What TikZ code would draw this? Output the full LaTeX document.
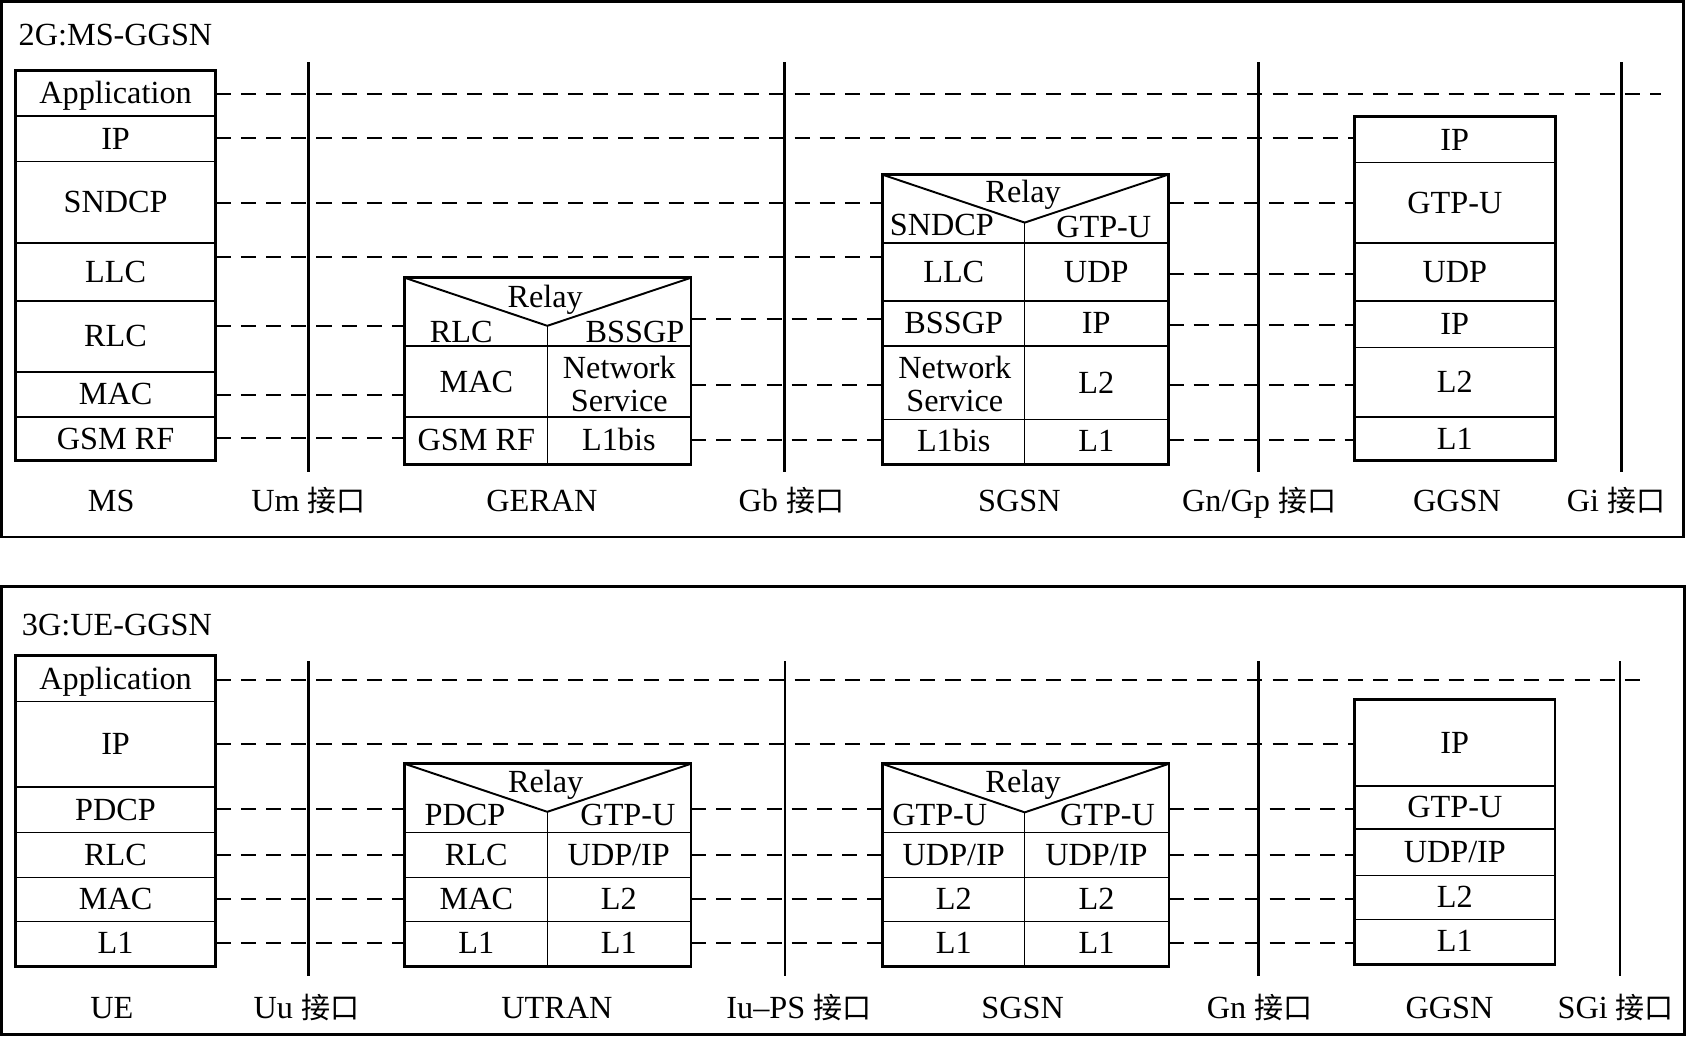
\documentclass[tikz,border=0pt]{standalone}
\usepackage{fontspec}
\setmainfont{Liberation Serif}
\newfontfamily\cjkfont[Scale=0.9]{Noto Sans CJK SC}
\usepackage{tikz}
\usetikzlibrary{fit}

\tikzset{
	proto/.style={inner sep=0pt, text height=0.66em, text depth=0pt, yshift=-1.5pt},
	layer/.style={draw, line width=0.7pt, inner sep=0pt, label={[proto]center:#1}},
	layer/.default={},
	divider/.style={line width=0.7pt},
	stackbox/.style={line width=1.3pt},
	relayline/.style={line width=0.9pt},
	twoline/.style={inner sep=0pt, align=center},
	dashlink/.style={line width=0.9pt, dash pattern=on 7pt off 4.7pt},
	iface/.style={line width=1.1pt},
	panelbox/.style={line width=1.3pt}
}

\begin{document}
\begin{tikzpicture}[x=0.5pt, y=-0.5pt, font=\fontsize{15pt}{15.5pt}\selectfont]
				\useasboundingbox (0,0) rectangle (1568,963.5);

				\node[inner sep=0pt, anchor=base west] (title2g) at (17,42.5) {2G:MS-GGSN};

				\node[layer=Application, fit={(15,66) (200,108)}] (ms-app) {};
				\node[layer=IP, fit={(15,108) (200,150)}] (ms-ip) {};
				\node[layer=SNDCP, fit={(15,150) (200,226)}] (ms-sndcp) {};
				\node[layer=LLC, fit={(15,226) (200,280)}] (ms-llc) {};
				\node[layer=RLC, fit={(15,280) (200,346)}] (ms-rlc) {};
				\node[layer=MAC, fit={(15,346) (200,388)}] (ms-mac) {};
				\node[layer=GSM RF, fit={(15,388) (200,428)}] (ms-rf) {};
				\draw[stackbox] (ms-app.north west) rectangle (ms-rf.south east);

				\node[layer, fit={(377,259) (642,322)}] (geran-relay) {};
				\node[layer=MAC, fit={(377,322) (509,388)}] (geran-mac) {};
				\node[layer, fit={(509,322) (642,388)}] (geran-ns) {};
				\node[layer=GSM RF, fit={(377,388) (509,431)}] (geran-rf) {};
				\node[layer=L1bis, fit={(509,388) (642,431)}] (geran-l1bis) {};
				\coordinate (geran-apex) at (509,303);
				\draw[relayline] (geran-relay.north west) -- (geran-apex) -- (geran-relay.north east);
				\draw[divider] (geran-apex) -- (geran-apex |- geran-relay.south);
				\draw[stackbox] (geran-relay.north west) rectangle (geran-l1bis.south east);
				\node[proto] (geran-relay-txt) at (507,276) {Relay};
				\node[proto] (geran-rlc-txt) at (429,308.5) {RLC};
				\node[proto] (geran-bssgp-txt) at (590.5,308.5) {BSSGP};
				\node[twoline] (geran-ns-txt) at (576,357) {Network\\Service};

				\node[layer, fit={(821,163) (1086,226)}] (sgsn-relay) {};
				\node[layer=LLC, fit={(821,226) (953,280)}] (sgsn-llc) {};
				\node[layer=UDP, fit={(953,226) (1086,280)}] (sgsn-udp) {};
				\node[layer=BSSGP, fit={(821,280) (953,322)}] (sgsn-bssgp) {};
				\node[layer=IP, fit={(953,280) (1086,322)}] (sgsn-ip) {};
				\node[layer, fit={(821,322) (953,390)}] (sgsn-ns) {};
				\node[layer=L2, fit={(953,322) (1086,390)}] (sgsn-l2) {};
				\node[layer=L1bis, fit={(821,390) (953,431)}] (sgsn-l1bis) {};
				\node[layer=L1, fit={(953,390) (1086,431)}] (sgsn-l1) {};
				\coordinate (sgsn-apex) at (953,207);
				\draw[relayline] (sgsn-relay.north west) -- (sgsn-apex) -- (sgsn-relay.north east);
				\draw[divider] (sgsn-apex) -- (sgsn-apex |- sgsn-relay.south);
				\draw[stackbox] (sgsn-relay.north west) rectangle (sgsn-l1.south east);
				\node[proto] (sgsn-relay-txt) at (951.5,179) {Relay};
				\node[proto] (sgsn-sndcp-txt) at (876,209) {SNDCP};
				\node[proto] (sgsn-gtpu-txt) at (1026.5,211.5) {GTP-U};
				\node[twoline] (sgsn-ns-txt) at (888,357) {Network\\Service};

				\node[layer=IP, fit={(1260,109) (1446,151)}] (ggsn-ip) {};
				\node[layer=GTP-U, fit={(1260,151) (1446,226)}] (ggsn-gtpu) {};
				\node[layer=UDP, fit={(1260,226) (1446,280)}] (ggsn-udp) {};
				\node[layer=IP, fit={(1260,280) (1446,323)}] (ggsn-ipb) {};
				\node[layer=L2, fit={(1260,323) (1446,388)}] (ggsn-l2) {};
				\node[layer=L1, fit={(1260,388) (1446,428)}] (ggsn-l1) {};
				\draw[stackbox] (ggsn-ip.north west) rectangle (ggsn-l1.south east);

				\coordinate (app2-end) at (1545,87);
				\draw[dashlink] (ms-app.east |- 0,87) -- (app2-end);
				\draw[dashlink] (ms-ip.east |- 0,128) -- (ggsn-ip.west |- 0,128);
				\draw[dashlink] (ms-sndcp.east |- 0,189) -- (sgsn-relay.west |- 0,189);
				\draw[dashlink] (sgsn-relay.east |- 0,189) -- (ggsn-gtpu.west |- 0,189);
				\draw[dashlink] (ms-llc.east |- 0,238.6) -- (sgsn-llc.west |- 0,238.6);
				\draw[dashlink] (sgsn-udp.east |- 0,254.6) -- (ggsn-udp.west |- 0,254.6);
				\draw[dashlink] (ms-rlc.east |- 0,303) -- (geran-relay.west |- 0,303);
				\draw[dashlink] (geran-relay.east |- 0,297) -- (sgsn-bssgp.west |- 0,297);
				\draw[dashlink] (sgsn-ip.east |- 0,302) -- (ggsn-ipb.west |- 0,302);
				\draw[dashlink] (ms-mac.east |- 0,367.5) -- (geran-mac.west |- 0,367.5);
				\draw[dashlink] (geran-ns.east |- 0,358) -- (sgsn-ns.west |- 0,358);
				\draw[dashlink] (sgsn-l2.east |- 0,358) -- (ggsn-l2.west |- 0,358);
				\draw[dashlink] (ms-rf.east |- 0,407.5) -- (geran-rf.west |- 0,407.5);
				\draw[dashlink] (geran-l1bis.east |- 0,409) -- (sgsn-l1bis.west |- 0,409);
				\draw[dashlink] (sgsn-l1.east |- 0,409) -- (ggsn-l1.west |- 0,409);

				\draw[iface] (287,58) -- (287,439);
				\draw[iface] (729.5,58) -- (729.5,439);
				\draw[iface] (1170.5,58) -- (1170.5,439);
				\draw[iface] (1508,58) -- (1508,439);

				\node[proto] (lbl-ms) at (103.5,466) {MS};
				\node[proto] (lbl-um) at (287,466) {Um {\cjkfont 接口}};
				\node[proto] (lbl-geran) at (504,466) {GERAN};
				\node[proto] (lbl-gb) at (736,466) {Gb {\cjkfont 接口}};
				\node[proto] (lbl-sgsn) at (948,466) {SGSN};
				\node[proto] (lbl-gngp) at (1171,466) {Gn/Gp {\cjkfont 接口}};
				\node[proto] (lbl-ggsn) at (1355,466) {GGSN};
				\node[proto] (lbl-gi) at (1503,466) {Gi {\cjkfont 接口}};

				\draw[panelbox] (1.5,1.5) rectangle (1566,499.5);

				\node[inner sep=0pt, anchor=base west] (title3g) at (20,590.6) {3G:UE-GGSN};

				\node[layer=Application, fit={(15,610) (200,652.5)}] (ue-app) {};
				\node[layer=IP, fit={(15,652.5) (200,732)}] (ue-ip) {};
				\node[layer=PDCP, fit={(15,732) (200,774)}] (ue-pdcp) {};
				\node[layer=RLC, fit={(15,774) (200,816)}] (ue-rlc) {};
				\node[layer=MAC, fit={(15,816) (200,857)}] (ue-mac) {};
				\node[layer=L1, fit={(15,857) (200,898)}] (ue-l1) {};
				\draw[stackbox] (ue-app.north west) rectangle (ue-l1.south east);

				\node[layer, fit={(377,711) (642,774)}] (utran-relay) {};
				\node[layer=RLC, fit={(377,774) (509,816)}] (utran-rlc) {};
				\node[layer=UDP/IP, fit={(509,774) (642,816)}] (utran-udpip) {};
				\node[layer=MAC, fit={(377,816) (509,857)}] (utran-mac) {};
				\node[layer=L2, fit={(509,816) (642,857)}] (utran-l2) {};
				\node[layer=L1, fit={(377,857) (509,898)}] (utran-l1a) {};
				\node[layer=L1, fit={(509,857) (642,898)}] (utran-l1b) {};
				\coordinate (utran-apex) at (509,755);
				\draw[relayline] (utran-relay.north west) -- (utran-apex) -- (utran-relay.north east);
				\draw[divider] (utran-apex) -- (utran-apex |- utran-relay.south);
				\draw[stackbox] (utran-relay.north west) rectangle (utran-l1b.south east);
				\node[proto] (utran-relay-txt) at (507.5,727.5) {Relay};
				\node[proto] (utran-pdcp-txt) at (432.5,758.5) {PDCP};
				\node[proto] (utran-gtpu-txt) at (584,758.5) {GTP-U};

				\node[layer, fit={(821,711) (1086.5,774)}] (sgsn3-relay) {};
				\node[layer=UDP/IP, fit={(821,774) (953,816)}] (sgsn3-udpipa) {};
				\node[layer=UDP/IP, fit={(953,774) (1086.5,816)}] (sgsn3-udpipb) {};
				\node[layer=L2, fit={(821,816) (953,857)}] (sgsn3-l2a) {};
				\node[layer=L2, fit={(953,816) (1086.5,857)}] (sgsn3-l2b) {};
				\node[layer=L1, fit={(821,857) (953,898)}] (sgsn3-l1a) {};
				\node[layer=L1, fit={(953,857) (1086.5,898)}] (sgsn3-l1b) {};
				\coordinate (sgsn3-apex) at (953,755.5);
				\draw[relayline] (sgsn3-relay.north west) -- (sgsn3-apex) -- (sgsn3-relay.north east);
				\draw[divider] (sgsn3-apex) -- (sgsn3-apex |- sgsn3-relay.south);
				\draw[stackbox] (sgsn3-relay.north west) rectangle (sgsn3-l1b.south east);
				\node[proto] (sgsn3-relay-txt) at (951.5,727.5) {Relay};
				\node[proto] (sgsn3-gtpua-txt) at (874,758.5) {GTP-U};
				\node[proto] (sgsn3-gtpub-txt) at (1030,758.5) {GTP-U};

				\node[layer=IP, fit={(1260.5,651) (1445.5,731)}] (ggsn3-ip) {};
				\node[layer=GTP-U, fit={(1260.5,731) (1445.5,771)}] (ggsn3-gtpu) {};
				\node[layer=UDP/IP, fit={(1260.5,771) (1445.5,814)}] (ggsn3-udpip) {};
				\node[layer=L2, fit={(1260.5,814) (1445.5,855)}] (ggsn3-l2) {};
				\node[layer=L1, fit={(1260.5,855) (1445.5,896)}] (ggsn3-l1) {};
				\draw[stackbox] (ggsn3-ip.north west) rectangle (ggsn3-l1.south east);

				\coordinate (app3-end) at (1531.5,632);
				\draw[dashlink] (ue-app.east |- 0,632) -- (app3-end);
				\draw[dashlink] (ue-ip.east |- 0,692) -- (ggsn3-ip.west |- 0,692);
				\draw[dashlink] (ue-pdcp.east |- 0,752.7) -- (utran-relay.west |- 0,752.7);
				\draw[dashlink] (utran-relay.east |- 0,752.7) -- (sgsn3-relay.west |- 0,752.7);
				\draw[dashlink] (sgsn3-relay.east |- 0,752.7) -- (ggsn3-gtpu.west |- 0,752.7);
				\draw[dashlink] (ue-rlc.east |- 0,795) -- (utran-rlc.west |- 0,795);
				\draw[dashlink] (utran-udpip.east |- 0,795) -- (sgsn3-udpipa.west |- 0,795);
				\draw[dashlink] (sgsn3-udpipb.east |- 0,795) -- (ggsn3-udpip.west |- 0,795);
				\draw[dashlink] (ue-mac.east |- 0,836) -- (utran-mac.west |- 0,836);
				\draw[dashlink] (utran-l2.east |- 0,836) -- (sgsn3-l2a.west |- 0,836);
				\draw[dashlink] (sgsn3-l2b.east |- 0,836) -- (ggsn3-l2.west |- 0,836);
				\draw[dashlink] (ue-l1.east |- 0,877.3) -- (utran-l1a.west |- 0,877.3);
				\draw[dashlink] (utran-l1b.east |- 0,877.3) -- (sgsn3-l1a.west |- 0,877.3);
				\draw[dashlink] (sgsn3-l1b.east |- 0,877.3) -- (ggsn3-l1.west |- 0,877.3);

				\draw[iface] (287,615) -- (287,908);
				\draw[iface] (730,615) -- (730,908);
				\draw[iface] (1170.5,615) -- (1170.5,908);
				\draw[iface] (1506.5,615) -- (1506.5,908);

				\node[proto] (lbl-ue) at (104,937.5) {UE};
				\node[proto] (lbl-uu) at (285,937.5) {Uu {\cjkfont 接口}};
				\node[proto] (lbl-utran) at (518,937.5) {UTRAN};
				\node[proto] (lbl-iups) at (743,937.5) {Iu--PS {\cjkfont 接口}};
				\node[proto] (lbl-sgsn3) at (951,937.5) {SGSN};
				\node[proto] (lbl-gn) at (1171.5,937.5) {Gn {\cjkfont 接口}};
				\node[proto] (lbl-ggsn3) at (1348,937.5) {GGSN};
				\node[proto] (lbl-sgi) at (1502.7,937.5) {SGi {\cjkfont 接口}};

				\draw[panelbox] (1.5,545.5) rectangle (1566.5,962);
			\end{tikzpicture}
\end{document}
